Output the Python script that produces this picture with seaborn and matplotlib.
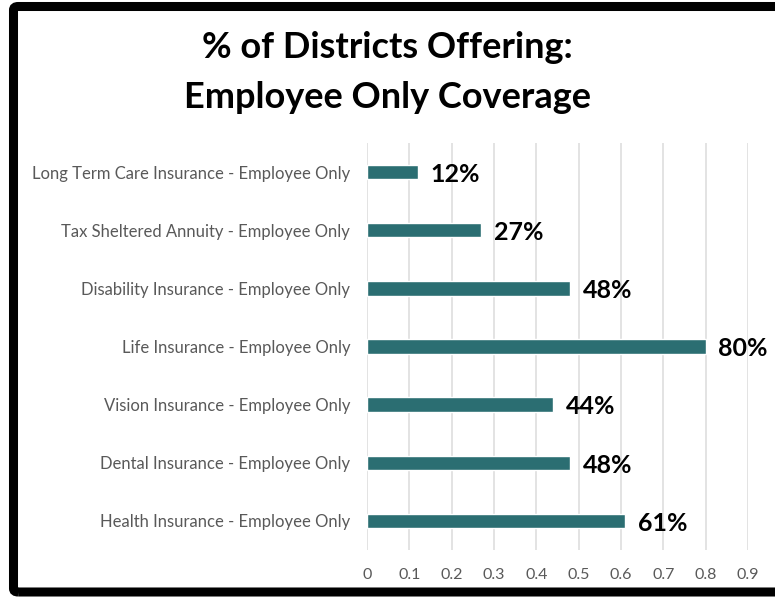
import matplotlib
matplotlib.use("Agg")
import matplotlib.pyplot as plt
import seaborn as sns
import pandas as pd
from matplotlib.patches import FancyBboxPatch

categories = [
    "Long Term Care Insurance - Employee Only",
    "Tax Sheltered Annuity - Employee Only",
    "Disability Insurance - Employee Only",
    "Life Insurance - Employee Only",
    "Vision Insurance - Employee Only",
    "Dental Insurance - Employee Only",
    "Health Insurance - Employee Only",
]
shares = [0.12, 0.27, 0.48, 0.80, 0.44, 0.48, 0.61]
x_ticks = [0, 0.1, 0.2, 0.3, 0.4, 0.5, 0.6, 0.7, 0.8, 0.9]
x_tick_labels = ["0", "0.1", "0.2", "0.3", "0.4", "0.5", "0.6", "0.7", "0.8", "0.9"]
title_lines = ["% of Districts Offering:", "Employee Only Coverage"]

df = pd.DataFrame({"benefit": categories, "share": shares})

sns.set_theme(style="white")
plt.rcParams["font.family"] = ["Lato", "DejaVu Sans"]

fig = plt.figure(figsize=(7.75, 5.99), dpi=100)
ax = fig.add_axes([0.4735, 0.0818, 0.4915, 0.6795])

sns.barplot(data=df, x="share", y="benefit", order=categories, color="#2B6E72",
            saturation=1, width=0.25, orient="h", ax=ax)

ax.set_xlim(0, 0.9)
ax.set_ylim(6.5, -0.5)
ax.set_xticks(x_ticks)
ax.set_xticklabels(x_tick_labels)
ax.xaxis.grid(True, color="#DEDEDE", linewidth=1.2)
ax.set_axisbelow(True)
for s in ax.spines.values():
    s.set_visible(False)
ax.tick_params(axis="x", length=0, pad=13, labelsize=11.5, labelcolor="#595959")
ax.tick_params(axis="y", length=0, pad=12, labelsize=12, labelcolor="#595959")
ax.set_xlabel("")
ax.set_ylabel("")

for i, v in enumerate(shares):
    ax.text(v + 0.03, i + 0.04, f"{round(v * 100)}%", va="center", ha="left",
            fontsize=18, fontweight="bold", color="black")

fig.text(0.5, 1 - 47 / 599, title_lines[0], ha="center", va="center",
         fontsize=26, fontweight="bold", color="black")
fig.text(0.5, 1 - 97 / 599, title_lines[1], ha="center", va="center",
         fontsize=26, fontweight="bold", color="black")

# black frame around the chart (right side runs off the canvas)
frame = FancyBboxPatch((13.5 / 775, 1 - 592 / 599), 1.2, (592 - 6.5) / 599,
                       boxstyle="round,pad=0,rounding_size=0.006",
                       transform=fig.transFigure, fill=False,
                       edgecolor="black", linewidth=6.5)
fig.patches.append(frame)

fig.savefig("out.png", dpi=100)
